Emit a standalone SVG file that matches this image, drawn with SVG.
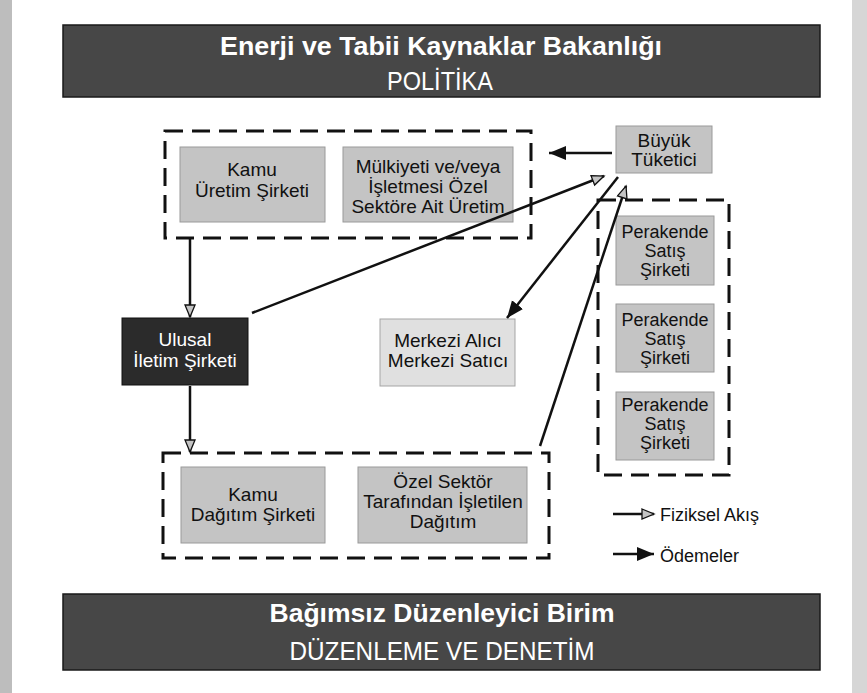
<svg xmlns="http://www.w3.org/2000/svg" width="867" height="693" viewBox="0 0 867 693">
<style>
  text { font-family: "Liberation Sans", Arial, sans-serif; }
  .banner { fill: #474747; stroke: #1a1a1a; stroke-width: 1.5; }
  .bt { fill: #fff; font-weight: bold; font-size: 26px; text-anchor: middle; }
  .bs { fill: #fff; font-size: 25px; text-anchor: middle; }
  .grp { fill: none; stroke: #111; stroke-width: 3; stroke-dasharray: 18 9; }
  .node { fill: #c4c4c4; stroke: #9a9a9a; stroke-width: 1; }
  .light { fill: #e0e0e0; stroke: #a5a5a5; stroke-width: 1; }
  .dark { fill: #2b2b2b; stroke: #111; stroke-width: 1; }
  .nt { fill: #111; font-size: 19px; text-anchor: middle; }
  .pt { fill: #111; font-size: 18px; text-anchor: middle; }
  .wt { fill: #fff; font-size: 19px; text-anchor: middle; }
  .conn { stroke: #111; stroke-width: 2.5; fill: none; }
  .phys { marker-end: url(#phys); }
  .pay { marker-end: url(#pay); }
  .lg { fill: #111; font-size: 18px; }
</style>
<defs>
  <marker id="phys" markerUnits="userSpaceOnUse" markerWidth="16" markerHeight="14" refX="13" refY="6" orient="auto">
    <path d="M1,1 L13,6 L1,11 Z" fill="#c4c4c4" stroke="#111" stroke-width="1.3"/>
  </marker>
  <marker id="pay" markerUnits="userSpaceOnUse" markerWidth="20" markerHeight="16" refX="17" refY="7" orient="auto">
    <path d="M0,0 L17,7 L0,14 Z" fill="#111"/>
  </marker>
</defs>
<rect width="867" height="693" fill="#fff"/>
<rect x="0" y="0" width="12" height="693" fill="#bdbdbd"/>
<rect x="852" y="0" width="15" height="693" fill="#d6d6d6"/>

<g id="banner-top">
  <rect class="banner" x="63" y="25" width="757" height="72"/>
  <text class="bt" x="441" y="55" textLength="442" lengthAdjust="spacingAndGlyphs">Enerji ve Tabii Kaynaklar Bakanlığı</text>
  <text class="bs" x="440" y="90" textLength="106" lengthAdjust="spacingAndGlyphs">POLİTİKA</text>
</g>

<g id="banner-bottom">
  <rect class="banner" x="63" y="594" width="757" height="76"/>
  <text class="bt" x="442" y="622" textLength="345" lengthAdjust="spacingAndGlyphs">Bağımsız Düzenleyici Birim</text>
  <text class="bs" x="442" y="660" textLength="305" lengthAdjust="spacingAndGlyphs">DÜZENLEME VE DENETİM</text>
</g>

<g id="group-uretim">
  <rect class="grp" x="165" y="131" width="366" height="107"/>
</g>
<g id="kamu-uretim">
  <rect class="node" x="180" y="147" width="145" height="75"/>
  <text class="nt" x="252" y="176">Kamu</text>
  <text class="nt" x="252" y="197">Üretim Şirketi</text>
</g>
<g id="ozel-uretim">
  <rect class="node" x="343" y="147" width="170" height="75"/>
  <text class="nt" x="428" y="173">Mülkiyeti ve/veya</text>
  <text class="nt" x="428" y="193">İşletmesi Özel</text>
  <text class="nt" x="428" y="213">Sektöre Ait Üretim</text>
</g>

<g id="buyuk-tuketici">
  <rect class="node" x="616" y="126" width="96" height="47"/>
  <text class="nt" x="664" y="147">Büyük</text>
  <text class="nt" x="664" y="166">Tüketici</text>
</g>

<g id="group-perakende">
  <rect class="grp" x="598" y="200" width="131" height="275"/>
</g>
<g id="perakende-1">
  <rect class="node" x="616" y="216" width="98" height="69"/>
  <text class="pt" x="665" y="238">Perakende</text>
  <text class="pt" x="665" y="257">Satış</text>
  <text class="pt" x="665" y="276">Şirketi</text>
</g>
<g id="perakende-2">
  <rect class="node" x="616" y="304" width="98" height="68"/>
  <text class="pt" x="665" y="326">Perakende</text>
  <text class="pt" x="665" y="345">Satış</text>
  <text class="pt" x="665" y="364">Şirketi</text>
</g>
<g id="perakende-3">
  <rect class="node" x="616" y="392" width="98" height="68"/>
  <text class="pt" x="665" y="411">Perakende</text>
  <text class="pt" x="665" y="430">Satış</text>
  <text class="pt" x="665" y="449">Şirketi</text>
</g>

<g id="ulusal-iletim">
  <rect class="dark" x="122" y="318" width="126" height="67"/>
  <text class="wt" x="185" y="346">Ulusal</text>
  <text class="wt" x="185" y="367">İletim Şirketi</text>
</g>

<g id="merkezi">
  <rect class="light" x="380" y="319" width="135" height="67"/>
  <text class="nt" x="448" y="347">Merkezi Alıcı</text>
  <text class="nt" x="448" y="367">Merkezi Satıcı</text>
</g>

<g id="group-dagitim">
  <rect class="grp" x="163" y="453" width="386" height="105"/>
</g>
<g id="kamu-dagitim">
  <rect class="node" x="181" y="467" width="144" height="76"/>
  <text class="nt" x="253" y="501">Kamu</text>
  <text class="nt" x="253" y="521">Dağıtım Şirketi</text>
</g>
<g id="ozel-dagitim">
  <rect class="node" x="358" y="467" width="169" height="76"/>
  <text class="nt" x="443" y="488">Özel Sektör</text>
  <text class="nt" x="443" y="508">Tarafından İşletilen</text>
  <text class="nt" x="443" y="528">Dağıtım</text>
</g>

<g id="connectors">
  <path class="conn phys" d="M190,238 L190,317"/>
  <path class="conn phys" d="M190,386 L190,452"/>
  <path class="conn phys" d="M252,313 L604,176"/>
  <path class="conn pay" d="M618,177 L507,318"/>
  <path class="conn phys" d="M540,446 L626,186"/>
  <path class="conn pay" d="M612,153 L549,153"/>
</g>

<g id="legend">
  <path class="conn phys" d="M613,514 L654,514"/>
  <text class="lg" x="660" y="521">Fiziksel Akış</text>
  <path class="conn pay" d="M613,554 L654,554"/>
  <text class="lg" x="660" y="562">Ödemeler</text>
</g>
</svg>
